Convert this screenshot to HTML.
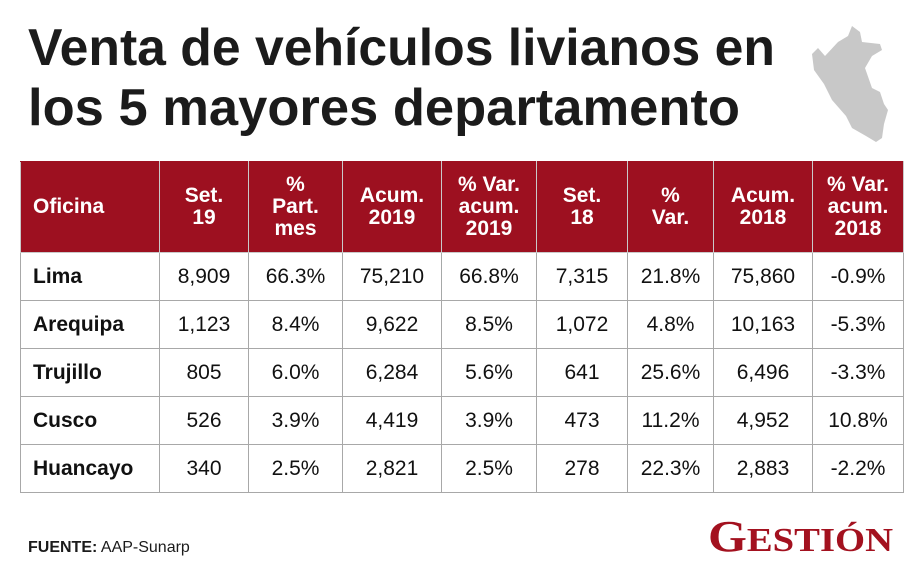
<!DOCTYPE html>
<html><head><meta charset="utf-8">
<style>
body{margin:0;background:#fff;width:920px;height:575px;overflow:hidden;position:relative;font-family:"Liberation Sans",sans-serif}
svg{position:absolute;left:0;top:0}
table{position:absolute;left:20px;top:161px;border-collapse:collapse;table-layout:fixed}
td,th{border:1px solid #a8a8a8;text-align:center;font-size:21px;color:#111;padding:0}
th{background:#9d1020;color:#fff;font-weight:bold;line-height:22px;height:90px;border-color:#c9c9c9;border-top-color:#9d1020}
td{height:47px}
td:first-child,th:first-child{text-align:left;padding-left:12px;font-weight:bold}
</style></head><body>
<svg width="920" height="575">
<text x="28" y="65" font-size="52" font-weight="bold" fill="#1b1b1b" textLength="747" lengthAdjust="spacingAndGlyphs">Venta de vehículos livianos en</text>
<text x="28" y="125" font-size="52" font-weight="bold" fill="#1b1b1b" textLength="712" lengthAdjust="spacingAndGlyphs">los 5 mayores departamento</text>
<path d="M852 26 L860 32 L862 42 L880 44 L882 50 L872 56 L865 68 L872 88 L880 92 L884 104 L888 110 L884 124 L882 138 L876 142 L866 136 L852 128 L846 116 L832 100 L824 84 L814 70 L812 54 L818 48 L825 56 L838 42 L848 36 Z" fill="#c8c8c8"/>
<text x="28" y="552" font-size="16" fill="#1b1b1b"><tspan font-weight="bold">FUENTE:</tspan> AAP-Sunarp</text>
<text x="708" y="551" font-size="44" font-weight="bold" fill="#a3111f" font-family="Liberation Serif,serif" textLength="185" lengthAdjust="spacingAndGlyphs">G<tspan font-size="34">ESTIÓN</tspan></text>
</svg>
<table>
<colgroup><col style="width:139px"><col style="width:89px"><col style="width:94px"><col style="width:99px"><col style="width:95px"><col style="width:91px"><col style="width:86px"><col style="width:99px"><col style="width:91px"></colgroup>
<tr><th>Oficina</th><th>Set.<br>19</th><th>%<br>Part.<br>mes</th><th>Acum.<br>2019</th><th>% Var.<br>acum.<br>2019</th><th>Set.<br>18</th><th>%<br>Var.</th><th>Acum.<br>2018</th><th>% Var.<br>acum.<br>2018</th></tr>
<tr><td>Lima</td><td>8,909</td><td>66.3%</td><td>75,210</td><td>66.8%</td><td>7,315</td><td>21.8%</td><td>75,860</td><td>-0.9%</td></tr>
<tr><td>Arequipa</td><td>1,123</td><td>8.4%</td><td>9,622</td><td>8.5%</td><td>1,072</td><td>4.8%</td><td>10,163</td><td>-5.3%</td></tr>
<tr><td>Trujillo</td><td>805</td><td>6.0%</td><td>6,284</td><td>5.6%</td><td>641</td><td>25.6%</td><td>6,496</td><td>-3.3%</td></tr>
<tr><td>Cusco</td><td>526</td><td>3.9%</td><td>4,419</td><td>3.9%</td><td>473</td><td>11.2%</td><td>4,952</td><td>10.8%</td></tr>
<tr><td>Huancayo</td><td>340</td><td>2.5%</td><td>2,821</td><td>2.5%</td><td>278</td><td>22.3%</td><td>2,883</td><td>-2.2%</td></tr>
</table>
</body></html>
